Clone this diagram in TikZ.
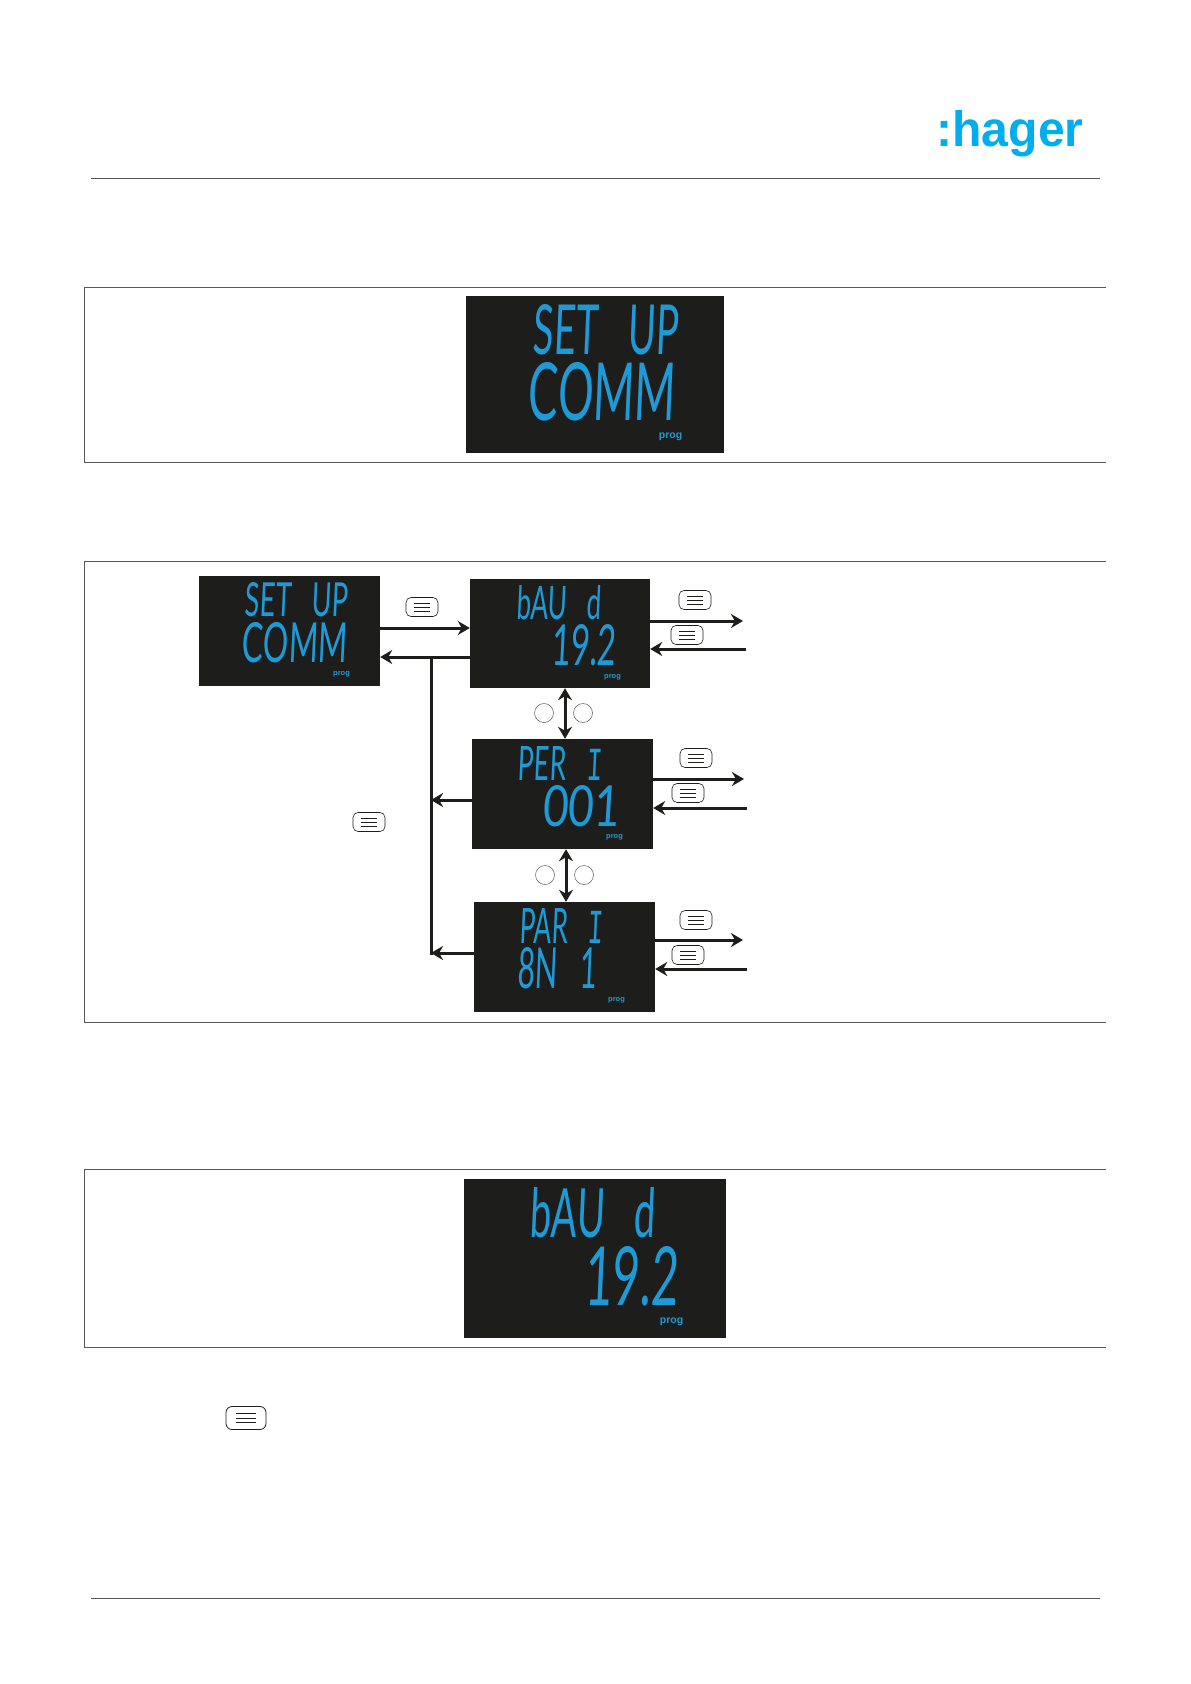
\documentclass[tikz,border=0pt]{standalone}
\usepackage{fontspec}
\setmainfont{Liberation Sans}
\newfontfamily\lcdfont[FakeSlant=0.08,WordSpace=3]{Lato}
\newfontfamily\lcdslab[FakeSlant=0.08]{Liberation Mono}
\newcommand{\slabI}{{\lcdslab I}}
\usepackage{graphicx}
\usetikzlibrary{arrows.meta}
\definecolor{ink}{HTML}{1D1D1B}
\definecolor{rule}{HTML}{58585A}
\definecolor{lcdblue}{HTML}{1E9AD6}
\definecolor{logoblue}{HTML}{00AEEF}
\tikzset{
  lcdbox/.style={draw=none,fill=ink,inner sep=0pt},
  lcdtxt/.style={text=lcdblue,inner sep=0pt,font=\lcdfont},
  progtxt/.style={text=lcdblue,inner sep=0pt,font=\bfseries\fontsize{#1}{#1}\selectfont},
  flecha/.style={-{Stealth[length=12pt,width=14pt]},line width=3pt,color=ink},
  flechad/.style={{Stealth[length=12pt,width=14pt]}-{Stealth[length=12pt,width=14pt]},line width=3pt,color=ink},
  ruleline/.style={draw=rule,line width=0.9pt},
  circ/.style={circle,draw=rule,line width=0.5pt,minimum size=19pt,inner sep=0pt},
  btn/.style={draw=ink,line width=0.6pt,rounded corners=5pt,inner sep=0pt,minimum width=32pt,minimum height=19pt,
    path picture={\foreach \dy in {-4,0,4}
      \draw[line width=1pt,sharp corners] ([xshift=-8pt,yshift=\dy pt]path picture bounding box.center) -- ++(16pt,0);}},
  btnbig/.style={draw=ink,line width=0.8pt,rounded corners=6pt,inner sep=0pt,minimum width=40pt,minimum height=23pt,
    path picture={\foreach \dy in {-4.5,0,4.5}
      \draw[line width=0.7pt,sharp corners] ([xshift=-10pt,yshift=\dy pt]path picture bounding box.center) -- ++(20pt,0);}},
}
\begin{document}
\begin{tikzpicture}[x=1pt,y=-1pt]
  \useasboundingbox (0,0) rectangle (1191,1684);
  \node[inner sep=0pt,text=logoblue,font=\bfseries,anchor=base] (logo) at (1010,146) {\resizebox{147pt}{36pt}{:hager}};
  \draw[ruleline] (91,178) -- (1100,178);
  \draw[ruleline] (91,1598) -- (1100,1598);
  \foreach \t/\b in {287/462,561/1022,1169/1347}
    \draw[ruleline] (1106,\t) -- (84,\t) -- (84,\b) -- (1106,\b);
  \foreach \n/\x/\y/\w/\h in {d1/595/374.5/258/157,d2/289.5/631/181/110,d3/560/633.5/180/109,d4/562.5/794/181/110,d5/564.5/957/181/110,d6/595/1258.5/262/159}
    \node[lcdbox,minimum width=\w,minimum height=\h] (\n) at (\x,\y) {};
  \foreach \n/\x/\y/\w/\h/\t in {a1/605.5/330/145/50/SET UP,a2/601.5/392/147/58/COMM,
    b1/296.5/600/103/34/SET UP,b2/294.5/643/105/40/COMM,
    c1/558.5/603/85/34/bAU d,c2/583.5/645.5/65/41/19.2,
    e1/560/763/84/34/PER \slabI,e2/580.5/806.5/77/41/001,
    f1/561/925.5/84/35/PAR \slabI,f2/557/968.5/80/41/8N 1,
    g1/592.5/1213/125/50/bAU d,g2/631/1276.5/94/59/19.2}
    \node[lcdtxt] (\n) at (\x,\y) {\resizebox{\w pt}{\h pt}{\t}};
  \foreach \n/\x/\y/\s in {p1/670.5/437/10.5,p2/341.5/674/7.5,p3/612.5/677/7.5,p4/614.5/837/7.5,p5/616.5/1000/7.5,p6/671.5/1322/10.5}
    \node[progtxt=\s] (\n) at (\x,\y) {prog};
  \foreach \n/\x/\y in {m1/422/607,m2/695/600,m3/687/635,m4/696/758,m5/688/793,m6/369/822,m7/696/920,m8/688/955}
    \node[btn] (\n) at (\x,\y) {};
  \node[btnbig] (m9) at (246,1418) {};
  \foreach \n/\x/\y in {c1l/544/713,c1r/583/713,c2l/545/875,c2r/584/875}
    \node[circ] (\n) at (\x,\y) {};
  \coordinate (bus) at (431,657);
  \coordinate (busd4) at (431,800);
  \coordinate (busd5) at (431,953);
  \draw[flecha] ([yshift=3pt]d2.east) -- ([yshift=5.5pt]d3.west);
  \draw[flecha] ([yshift=-23.5pt]d3.west) -- ([yshift=-26pt]d2.east);
  \draw[line width=3pt,color=ink,line cap=rect] (bus) -- (busd5);
  \draw[flecha] ([yshift=-6pt]d4.west) -- (busd4);
  \draw[flecha] ([yshift=4pt]d5.west) -- (busd5);
  \foreach \d/\u/\l/\o/\i in {d3/12.5/-15.5/743/746,d4/15/-14/744/747,d5/17/-12/743/747}{
    \coordinate (o\d) at (\o,0);
    \coordinate (i\d) at (\i,0);
    \draw[flecha] ([yshift=\u pt]\d.east) -- ([yshift=\u pt]\d.east -| o\d);
    \draw[flecha] ([yshift=\l pt]\d.east -| i\d) -- ([yshift=\l pt]\d.east);
  }
  \draw[flechad] ([xshift=5pt]d3.south) -- ([xshift=2.5pt]d4.north);
  \draw[flechad] ([xshift=3.5pt]d4.south) -- ([xshift=1.5pt]d5.north);
\end{tikzpicture}
\end{document}
